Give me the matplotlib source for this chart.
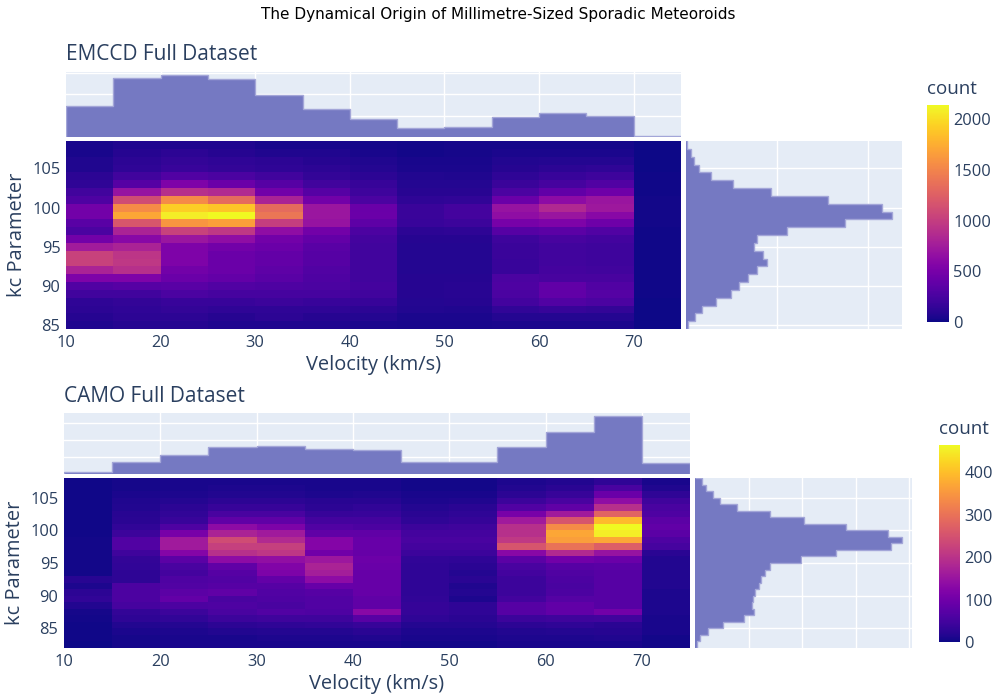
import numpy as np
import matplotlib
matplotlib.use("Agg")
import matplotlib.pyplot as plt

# ----------------------------------------
# Data
# ----------------------------------------
vel_edges = np.arange(10, 80, 5)          # 13 velocity bins, 10..75 km/s

# EMCCD: kc bins centred on integers, listed from 108 down to 85
emccd_kc = np.arange(108, 84, -1)
emccd_cols = [
    [40, 40, 60, 60, 110, 130, 210, 280, 470, 470, 340, 260, 470, 750, 1030, 1030, 810, 540, 300, 210, 130, 110, 90, 60],
    [60, 90, 110, 130, 210, 320, 680, 1110, 1540, 1710, 1180, 810, 600, 810, 940, 960, 900, 540, 320, 210, 150, 130, 110, 90],
    [60, 110, 150, 170, 300, 540, 900, 1540, 1930, 2080, 1610, 1030, 710, 540, 540, 540, 470, 430, 340, 260, 170, 150, 110, 90],
    [60, 90, 130, 150, 260, 430, 860, 1330, 1880, 2140, 1670, 960, 640, 470, 430, 430, 430, 390, 300, 240, 170, 130, 90, 60],
    [40, 60, 110, 130, 210, 320, 470, 810, 1330, 1410, 1010, 640, 470, 430, 390, 390, 360, 340, 280, 240, 190, 130, 110, 60],
    [40, 60, 90, 110, 150, 210, 320, 470, 710, 710, 680, 470, 390, 340, 320, 320, 300, 280, 260, 240, 170, 130, 90, 60],
    [30, 40, 60, 80, 110, 160, 200, 260, 420, 430, 360, 270, 230, 210, 210, 210, 210, 210, 230, 210, 160, 110, 80, 50],
    [20, 20, 40, 50, 70, 80, 100, 130, 180, 180, 170, 110, 90, 80, 80, 80, 80, 90, 90, 90, 80, 70, 50, 40],
    [30, 30, 40, 50, 60, 80, 100, 140, 230, 230, 190, 120, 90, 80, 80, 80, 80, 90, 100, 100, 90, 60, 50, 40],
    [30, 50, 70, 90, 130, 180, 260, 430, 680, 640, 500, 320, 200, 180, 180, 170, 170, 260, 280, 260, 220, 140, 80, 50],
    [30, 50, 80, 110, 170, 240, 380, 620, 850, 700, 540, 350, 250, 210, 210, 210, 230, 250, 380, 380, 300, 160, 80, 50],
    [30, 50, 80, 130, 200, 300, 450, 700, 720, 600, 450, 300, 220, 200, 200, 200, 210, 250, 300, 310, 260, 150, 80, 50],
    [5, 5, 8, 8, 10, 12, 15, 18, 22, 22, 20, 15, 12, 10, 10, 10, 10, 10, 10, 10, 8, 6, 5, 5],
]
emccd_vel_hist = [7210, 13820, 14420, 13430, 9680, 6520, 4080, 2000, 2300, 4610, 5690, 4910, 300]
emccd_kc_hist = [37, 275, 420, 730, 1370, 2600, 4670, 7780, 10790, 11300, 8740, 5570,
                 3920, 3740, 4250, 4430, 3920, 3420, 2930, 2470, 1650, 860, 480, 130]

# CAMO: kc bins [k, k+1), lower edges listed from 107 down to 82
camo_kc = np.arange(107, 81, -1)
camo_cols = [
    [2, 2, 2, 2, 2, 3, 3, 3, 3, 4, 4, 4, 4, 4, 5, 20, 12, 25, 30, 15, 6, 4, 3, 2, 2, 1],
    [6, 6, 10, 13, 16, 20, 23, 30, 40, 65, 65, 45, 32, 30, 26, 26, 58, 58, 58, 52, 32, 26, 16, 10, 6, 6],
    [8, 8, 12, 18, 25, 30, 38, 60, 110, 160, 160, 125, 75, 55, 50, 60, 65, 75, 85, 58, 40, 30, 18, 12, 8, 8],
    [8, 12, 16, 25, 35, 55, 80, 135, 175, 240, 220, 195, 135, 80, 70, 65, 70, 80, 55, 60, 55, 40, 25, 16, 8, 8],
    [8, 12, 16, 25, 35, 55, 80, 115, 160, 185, 220, 205, 140, 120, 115, 85, 70, 65, 60, 55, 65, 45, 28, 18, 12, 8],
    [8, 8, 12, 20, 25, 35, 50, 65, 80, 125, 125, 100, 155, 175, 165, 135, 90, 70, 65, 65, 60, 45, 30, 18, 12, 8],
    [8, 8, 14, 20, 30, 38, 50, 58, 80, 90, 90, 88, 95, 92, 88, 88, 88, 88, 80, 80, 130, 72, 36, 22, 14, 8],
    [5, 5, 8, 11, 17, 22, 28, 40, 50, 56, 50, 40, 30, 28, 28, 28, 28, 28, 30, 33, 33, 28, 17, 11, 8, 5],
    [5, 5, 8, 14, 22, 28, 33, 45, 50, 56, 50, 40, 28, 22, 17, 22, 14, 17, 11, 28, 28, 22, 17, 11, 8, 5],
    [12, 16, 25, 40, 65, 110, 160, 195, 195, 210, 255, 130, 75, 55, 48, 40, 40, 40, 48, 70, 70, 40, 25, 16, 12, 8],
    [16, 22, 35, 55, 80, 160, 255, 335, 370, 360, 300, 185, 100, 70, 62, 58, 55, 58, 68, 82, 82, 45, 28, 18, 12, 8],
    [28, 56, 93, 139, 195, 278, 394, 464, 450, 371, 269, 148, 93, 74, 70, 70, 70, 70, 70, 70, 102, 46, 23, 19, 14, 9],
    [8, 14, 28, 45, 55, 60, 75, 82, 75, 60, 52, 22, 15, 15, 15, 15, 15, 12, 12, 12, 12, 9, 9, 9, 5, 5],
]
camo_vel_hist = [120, 680, 1100, 1620, 1680, 1460, 1400, 720, 680, 1620, 2500, 3430, 640]
camo_kc_hist = [62, 102, 164, 232, 389, 698, 1016, 1411, 1800, 1929, 1830, 1315, 985,
                700, 658, 614, 602, 559, 537, 528, 547, 460, 260, 124, 47, 22]

# ----------------------------------------
# Styling
# ----------------------------------------
W, H = 996, 699
BG = "#E5ECF6"
TXT = "#2a3f5f"
BAR = "#7579c2"
EDGE = "#a3a6d8"
plt.rcParams["font.family"] = ["Open Sans", "DejaVu Sans"]

fig = plt.figure(figsize=(W / 100, H / 100), dpi=100)


def rect(x0, y0, x1, y1):
    return [x0 / W, 1 - y1 / H, (x1 - x0) / W, (y1 - y0) / H]


def plain(ax):
    ax.set_facecolor(BG)
    for s in ax.spines.values():
        s.set_visible(False)
    ax.tick_params(length=0, labelbottom=False, labelleft=False)
    ax.set_axisbelow(True)


def panel(box, cols, vel_hist, kc_hist, edges_kc, gstep_v, gstep_k,
          title, title_y, cbar_box, cbar_ticks):
    hx0, hx1, my0, hy0, hy1, rx1 = box
    Z = np.array(cols).T[::-1]        # rows ascending in kc
    kc_hist_asc = np.array(kc_hist)[::-1]

    # heatmap
    ax = fig.add_axes(rect(hx0, hy0, hx1, hy1))
    mesh = ax.pcolormesh(vel_edges, edges_kc, Z, cmap="plasma", vmin=0, vmax=Z.max())
    ax.set_xlim(10, 75)
    ax.set_ylim(edges_kc[0], edges_kc[-1])
    for s in ax.spines.values():
        s.set_visible(False)
    ax.set_xticks(range(10, 80, 10))
    ax.set_yticks(range(85, 110, 5))
    ax.tick_params(length=0, labelsize=11.8, labelcolor=TXT, pad=4)
    ax.set_xlabel("Velocity (km/s)", fontsize=14.4, color=TXT, labelpad=3)
    ax.set_ylabel("kc Parameter", fontsize=14.4, color=TXT, labelpad=4)

    # velocity marginal
    axm = fig.add_axes(rect(hx0, my0, hx1, hy0 - 4))
    plain(axm)
    axm.bar(vel_edges[:-1], vel_hist, width=5, align="edge", color=BAR, linewidth=0)
    axm.stairs(vel_hist, vel_edges, color=EDGE, linewidth=1)
    axm.set_xlim(10, 75)
    axm.set_ylim(0, max(vel_hist) * 1.05)
    axm.set_xticks(range(20, 80, 10))
    axm.set_yticks(np.arange(gstep_v, max(vel_hist) * 1.05, gstep_v))
    axm.grid(True, color="white", linewidth=1)

    fig.text(hx0 / W, 1 - title_y / H, title, fontsize=15, color=TXT,
             ha="left", va="center")

    # kc marginal
    axr = fig.add_axes(rect(hx1 + 5, hy0, rx1, hy1))
    plain(axr)
    axr.barh(edges_kc[:-1], kc_hist_asc, height=1, align="edge", color=BAR, linewidth=0)
    axr.stairs(kc_hist_asc, edges_kc, orientation="horizontal", color=EDGE, linewidth=1)
    axr.set_ylim(edges_kc[0], edges_kc[-1])
    axr.set_xlim(0, max(kc_hist) * 1.05)
    axr.set_yticks(range(85, 110, 5))
    axr.set_xticks(np.arange(gstep_k, max(kc_hist) * 1.05, gstep_k))
    axr.grid(True, color="white", linewidth=1)

    # colorbar
    cx0, cy0, cx1, cy1 = cbar_box
    cax = fig.add_axes(rect(cx0, cy0, cx1, cy1))
    cb = fig.colorbar(mesh, cax=cax, ticks=cbar_ticks)
    cb.outline.set_visible(False)
    cax.tick_params(length=0, labelsize=11.8, labelcolor=TXT, pad=3)
    fig.text(cx0 / W, 1 - (cy0 - 7) / H, "count", fontsize=13.5, color=TXT,
             ha="left", va="bottom")


panel((66, 681, 72, 141, 329, 902), emccd_cols, emccd_vel_hist,
      emccd_kc_hist, np.arange(84.5, 109, 1), 5000, 5000,
      "EMCCD Full Dataset", 55, (927, 105, 949, 322), range(0, 2500, 500))

panel((64, 690, 413, 478, 648, 912), camo_cols, camo_vel_hist,
      camo_kc_hist, np.arange(82, 109, 1), 1000, 500,
      "CAMO Full Dataset", 397, (939, 445, 960, 642), range(0, 500, 100))

fig.text(0.5, 1 - 14 / H, "The Dynamical Origin of Millimetre-Sized Sporadic Meteoroids",
         ha="center", va="center", fontsize=11, family="DejaVu Sans", color="black")

fig.savefig("out.png", dpi=100)
